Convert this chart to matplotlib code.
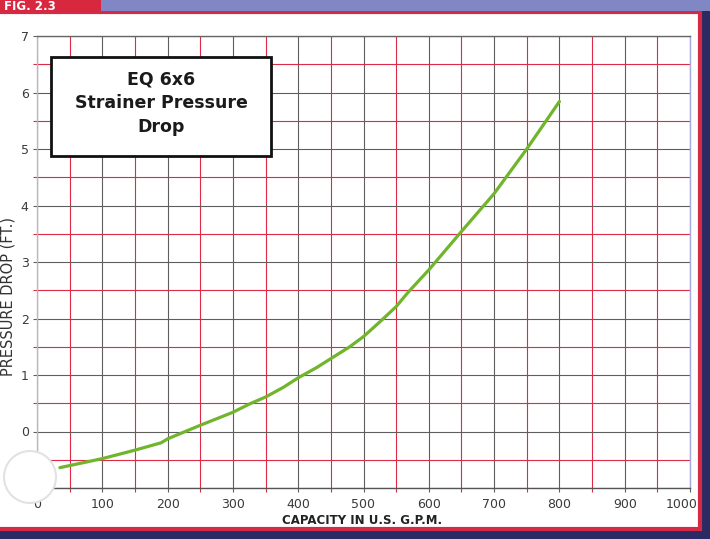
import matplotlib
matplotlib.use("Agg")
import matplotlib.pyplot as plt
from matplotlib.patches import Rectangle, Ellipse
import matplotlib.transforms as mtransforms
import numpy as np

plt.rcParams['font.family'] = ['DejaVu Sans']

# Data
capacity_gpm = [35, 100, 150, 190, 200, 250, 300, 326, 350, 377, 400, 428, 450, 479, 500, 525,
                550, 568, 600, 650, 700, 750, 800]
pressure_drop_ft = [-0.64, -0.48, -0.33, -0.20, -0.13, 0.11, 0.34, 0.49, 0.61, 0.78, 0.95, 1.13,
                    1.29, 1.50, 1.68, 1.94, 2.21, 2.46, 2.86, 3.54, 4.21, 5.00, 5.84]
x_ticks = [0, 100, 200, 300, 400, 500, 600, 700, 800, 900, 1000]
x_tick_labels = ['0', '100', '200', '300', '400', '500', '600', '700', '800', '900', '1000']
y_ticks = [-1, 0, 1, 2, 3, 4, 5, 6, 7]
y_tick_labels = ['', '0', '1', '2', '3', '4', '5', '6', '7']
title_text = "EQ 6x6\nStrainer Pressure\nDrop"

W, H = 710, 539
fig = plt.figure(figsize=(W / 100, H / 100), dpi=100, facecolor='#2b2a62')

def fx(px):
    return px / W

def fy(py):
    return 1 - py / H

# white panel with red border
fig.patches.append(Rectangle((fx(-5), fy(529)), fx(705), (529 - 12) / H, transform=fig.transFigure,
                             facecolor='white', edgecolor='#d42a45', linewidth=3, zorder=-2))
# top lavender bar
fig.patches.append(Rectangle((fx(0), fy(10.5)), 1, 10.5 / H, transform=fig.transFigure,
                             facecolor='#8087c4', edgecolor='none', zorder=-1))
# red tab
fig.patches.append(Rectangle((fx(0), fy(12)), fx(101), 12 / H, transform=fig.transFigure,
                             facecolor='#d8283f', edgecolor='none', zorder=-1))
fig.text(fx(4), fy(6), "FIG. 2.3", color='white', fontsize=8.5, fontweight='bold',
         ha='left', va='center', zorder=3)

ax = fig.add_axes([fx(37), fy(488), (690 - 37) / W, (488 - 36) / H])
ax.set_zorder(1)
ax.set_facecolor('white')
ax.set_xlim(0, 1000)
ax.set_ylim(-1, 7)

dark = '#5e5e5e'
red = '#e02a45'
ax.set_xticks(x_ticks)
ax.set_xticklabels(x_tick_labels)
ax.set_yticks(y_ticks)
ax.set_yticklabels(y_tick_labels)
ax.set_xticks(np.arange(50, 1000, 100), minor=True)
ax.set_yticks(np.arange(-0.5, 7, 1), minor=True)
ax.grid(True, which='major', color=dark, linewidth=0.8)
ax.grid(True, which='minor', color=red, linewidth=0.8)
ax.set_axisbelow(True)
ax.tick_params(axis='both', which='major', direction='out', length=3, width=0.8, color=dark,
               labelsize=9, labelcolor='#3a3a3a')
ax.tick_params(axis='x', which='major', pad=4)
ax.tick_params(axis='y', which='major', pad=3)
ax.tick_params(axis='both', which='minor', direction='out', length=3, width=0.8, color=red)

# shift the last x label slightly left, as in the reference
last = ax.get_xticklabels()[-1]
last.set_transform(last.get_transform() +
                   mtransforms.ScaledTranslation(-8 / 100, 0, fig.dpi_scale_trans))

for s, c in [('left', '#b8b8b8'), ('bottom', '#555555'), ('top', '#666666'), ('right', '#a8a8e0')]:
    ax.spines[s].set_color(c)
    ax.spines[s].set_linewidth(1.0)

ax.plot(capacity_gpm, pressure_drop_ft, color='#70b52c', linewidth=2.3, solid_capstyle='round',
        solid_joinstyle='round', zorder=5)

# title box
fig.patches.append(Rectangle((fx(51), fy(156)), fx(220), (156 - 57) / H, transform=fig.transFigure,
                             facecolor='white', edgecolor='#111111', linewidth=2, zorder=6))
fig.text(fx(161), fy(103), title_text, ha='center', va='center', fontsize=12.5, fontweight='bold',
         color='#1a1a1a', linespacing=1.4, zorder=7)

fig.text(fx(362), fy(520), "CAPACITY IN U.S. G.P.M.", ha='center', va='center', fontsize=8.5,
         fontweight='bold', color='#222222')
fig.text(fx(8), fy(297), "PRESSURE DROP (FT.)", ha='center', va='center', rotation=90,
         fontsize=10.5, color='#333333')

# decorative white circle near origin
fig.patches.append(Ellipse((fx(30), fy(477)), 52 / W, 52 / H, transform=fig.transFigure,
                           facecolor='white', edgecolor='#e2e2e2', linewidth=1.5, zorder=8))

fig.savefig('out.png', dpi=100, facecolor=fig.get_facecolor())
